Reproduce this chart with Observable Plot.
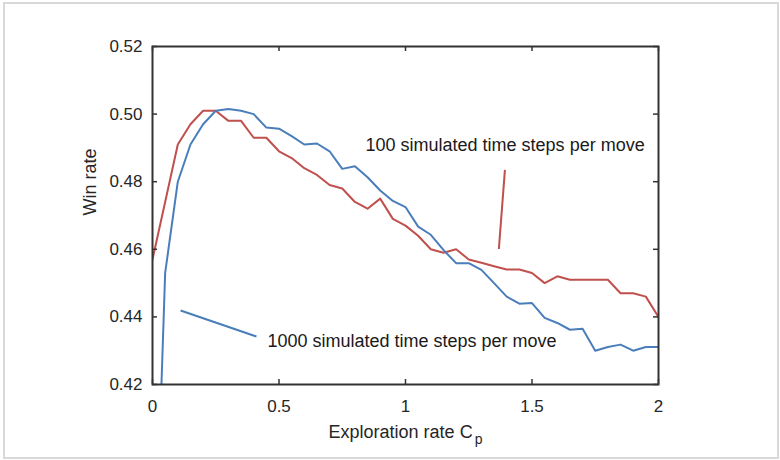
<!DOCTYPE html>
<html>
<head>
<meta charset="utf-8">
<script src="https://cdn.jsdelivr.net/npm/d3@7"></script>
<script src="https://cdn.jsdelivr.net/npm/@observablehq/plot@0.6"></script>
<style>
  html, body { margin: 0; padding: 0; background: #fff; }
  #wrap { position: relative; width: 780px; height: 460px; overflow: hidden; }
  #border { position: absolute; left: 3px; top: 2px; width: 772px; height: 453px; border: 2px solid #d9d9d9; }
  #chart { position: absolute; left: 0; top: 0; }
</style>
</head>
<body>
<div id="wrap"><div id="border"></div><div id="chart"></div></div>
<script>
// Exploration rate Cp (x values)
const cp = [0,0.05,0.1,0.15,0.2,0.25,0.3,0.35,0.4,0.45,0.5,0.55,0.6,0.65,0.7,0.75,0.8,0.85,0.9,0.95,1,
            1.05,1.1,1.15,1.2,1.25,1.3,1.35,1.4,1.45,1.5,1.55,1.6,1.65,1.7,1.75,1.8,1.85,1.9,1.95,2];
// Win rate, 100 simulated time steps per move
const win100 = [0.457,0.474,0.491,0.497,0.501,0.501,0.498,0.498,0.493,0.493,0.489,0.487,0.484,0.482,0.479,0.478,0.474,0.472,0.475,0.469,0.467,
                0.464,0.460,0.459,0.460,0.457,0.456,0.455,0.454,0.454,0.453,0.450,0.452,0.451,0.451,0.451,0.451,0.447,0.447,0.446,0.440];
// Win rate, 1000 simulated time steps per move
const win1000 = [0.340,0.453,0.480,0.491,0.497,0.501,0.5015,0.501,0.500,0.496,0.4957,0.4935,0.491,0.4913,0.489,0.4838,0.4846,0.4813,0.4774,0.4743,0.4725,
                 0.4667,0.4643,0.4598,0.4559,0.4559,0.4539,0.450,0.446,0.4439,0.4441,0.4397,0.4382,0.4362,0.4365,0.430,0.4311,0.4318,0.430,0.4311,0.4311];
const xTicks = [0, 0.5, 1, 1.5, 2];
const xTickLabels = ["0", "0.5", "1", "1.5", "2"];
const yTicks = [0.42, 0.44, 0.46, 0.48, 0.50, 0.52];
const yTickLabels = ["0.42", "0.44", "0.46", "0.48", "0.50", "0.52"];
// annotation labels and their leader lines (data coordinates)
const labelText = ["100 simulated time steps per move", "1000 simulated time steps per move"];
const labelX = [0.842, 0.4545];
const labelY = [0.4907, 0.4329];
const labelColor = ["#c0504d", "#4a7ebb"];
const leaderX1 = [1.393, 0.111];
const leaderY1 = [0.4835, 0.4419];
const leaderX2 = [1.369, 0.411];
const leaderY2 = [0.4601, 0.4342];

const s100 = cp.map((x, i) => ({x, y: win100[i]}));
const s1000 = cp.map((x, i) => ({x, y: win1000[i]}));
const labels = labelText.map((t, i) => ({t, x: labelX[i], y: labelY[i]}));
const leaders = leaderX1.map((x1, i) => ({x1, y1: leaderY1[i], x2: leaderX2[i], y2: leaderY2[i], c: labelColor[i]}));

const W = 780, H = 460, ML = 152, MR = 122, MT = 46, MB = 76;
const fw = W - ML - MR, fh = H - MT - MB, tk = 5;
const ink = "#333333";

const chart = Plot.plot({
  width: W, height: H,
  marginLeft: ML, marginRight: MR, marginTop: MT, marginBottom: MB,
  style: {fontFamily: "'Liberation Sans', Arial, sans-serif", fontSize: "17px", color: "#262626", background: "transparent"},
  x: {domain: [0, 2], label: null},
  y: {domain: [0.42, 0.52], label: null},
  marks: [
    Plot.axisX(xTicks, {tickSize: 0, tickPadding: 15, label: null, fontSize: 17, tickFormat: d => xTickLabels[xTicks.indexOf(d)]}),
    Plot.axisY(yTicks, {tickSize: 0, tickPadding: 10, label: null, fontSize: 17, tickFormat: d => yTickLabels[yTicks.indexOf(d)]}),
    Plot.line(s100, {x: "x", y: "y", stroke: labelColor[0], strokeWidth: 2, clip: true}),
    Plot.line(s1000, {x: "x", y: "y", stroke: labelColor[1], strokeWidth: 2, clip: true}),
    Plot.link(leaders, {x1: "x1", y1: "y1", x2: "x2", y2: "y2", stroke: "c", strokeWidth: 2}),
    Plot.ruleX(xTicks, {x: d => d, insetTop: fh - tk, stroke: ink, strokeWidth: 1.5}),
    Plot.ruleX(xTicks, {x: d => d, insetBottom: fh - tk, stroke: ink, strokeWidth: 1.5}),
    Plot.ruleY(yTicks, {y: d => d, insetRight: fw - tk, stroke: ink, strokeWidth: 1.5}),
    Plot.ruleY(yTicks, {y: d => d, insetLeft: fw - tk, stroke: ink, strokeWidth: 1.5}),
    Plot.frame({stroke: ink, strokeWidth: 2}),
    Plot.text(labels, {x: "x", y: "y", text: "t", textAnchor: "start", lineAnchor: "middle", fill: "#1a1a1a", fontSize: 18}),
    Plot.text(["Win rate"], {frameAnchor: "left", dx: -62, rotate: -90, fill: "#262626", fontSize: 18}),
    Plot.text(["Exploration rate C"], {frameAnchor: "bottom", dy: 53, lineAnchor: "bottom", fill: "#262626", fontSize: 18})
  ]
});

d3.select(chart).selectAll("text").each(function() {
  if (this.textContent === "Exploration rate C") {
    d3.select(this).append("tspan").attr("dx", 2).attr("dy", 6).attr("font-size", 14).text("p");
  }
});

document.getElementById("chart").appendChild(chart);
</script>
</body>
</html>
